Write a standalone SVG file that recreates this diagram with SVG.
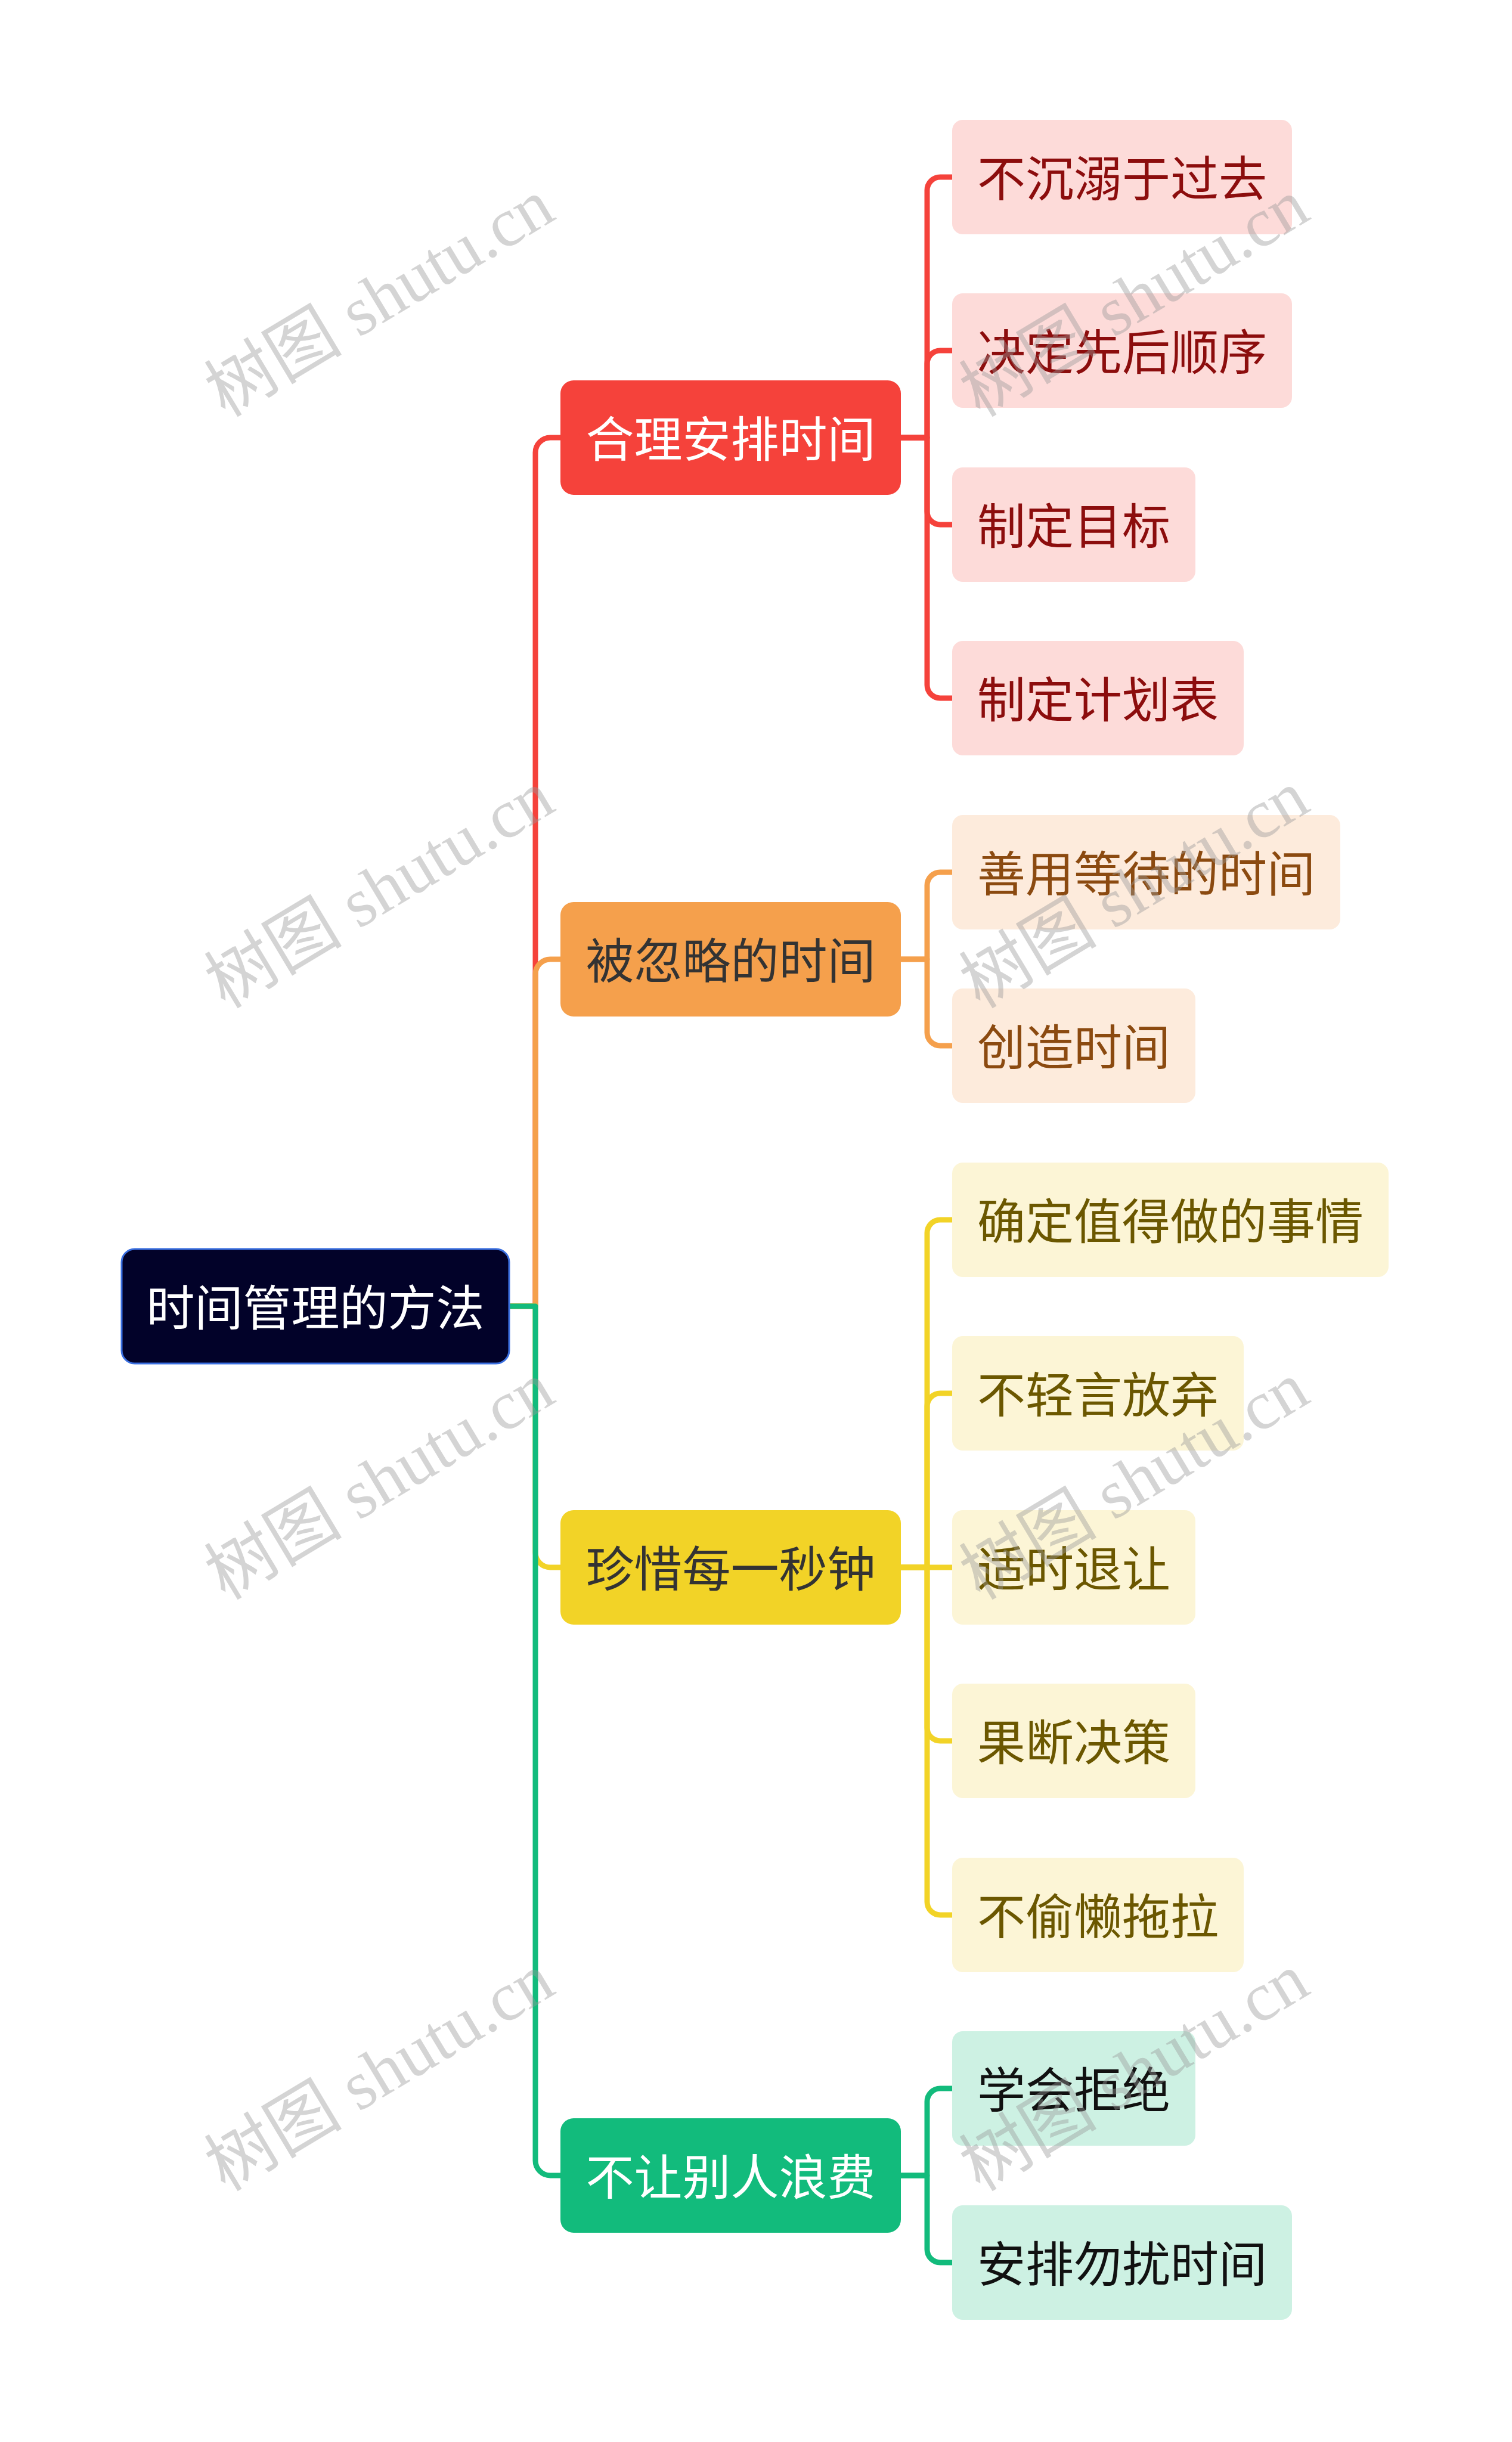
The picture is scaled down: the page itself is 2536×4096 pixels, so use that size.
<svg xmlns="http://www.w3.org/2000/svg" width="2536" height="4096" viewBox="0 0 2536 4096">
<style>
.t{font-family:"Noto Sans CJK SC","Noto Sans",sans-serif;font-size:81px;dominant-baseline:central}
.c{fill:none;stroke-width:9;stroke-linejoin:round}
.wm{font-family:"Liberation Serif","Noto Sans CJK SC",serif;font-size:116px;fill:#999;fill-opacity:0.42;text-anchor:middle}
</style>
<rect width="2536" height="4096" fill="#ffffff"/>
<g id="connectors">
<path class="c" stroke="#f5423b" d="M854 2191 H898 V759 A25 25 0 0 1 923 734 H940"/>
<path class="c" stroke="#f5a04c" d="M854 2191 H898 V1634 A25 25 0 0 1 923 1609 H940"/>
<path class="c" stroke="#f2d327" d="M854 2191 H898 V2604 A25 25 0 0 0 923 2629 H940"/>
<path class="c" stroke="#12bb7c" d="M854 2191 H898 V3624 A25 25 0 0 0 923 3649 H940"/>
<path class="c" stroke="#f5423b" d="M1511 734 H1555 V319 A22 22 0 0 1 1577 297 H1597"/>
<path class="c" stroke="#f5423b" d="M1511 734 H1555 V610 A22 22 0 0 1 1577 588 H1597"/>
<path class="c" stroke="#f5423b" d="M1511 734 H1555 V858 A22 22 0 0 0 1577 880 H1597"/>
<path class="c" stroke="#f5423b" d="M1511 734 H1555 V1149 A22 22 0 0 0 1577 1171 H1597"/>
<path class="c" stroke="#f5a04c" d="M1511 1609 H1555 V1485 A22 22 0 0 1 1577 1463 H1597"/>
<path class="c" stroke="#f5a04c" d="M1511 1609 H1555 V1732 A22 22 0 0 0 1577 1754 H1597"/>
<path class="c" stroke="#f2d327" d="M1511 2629 H1555 V2068 A22 22 0 0 1 1577 2046 H1597"/>
<path class="c" stroke="#f2d327" d="M1511 2629 H1555 V2359 A22 22 0 0 1 1577 2337 H1597"/>
<path class="c" stroke="#f2d327" d="M1511 2629 H1597"/>
<path class="c" stroke="#f2d327" d="M1511 2629 H1555 V2898 A22 22 0 0 0 1577 2920 H1597"/>
<path class="c" stroke="#f2d327" d="M1511 2629 H1555 V3190 A22 22 0 0 0 1577 3212 H1597"/>
<path class="c" stroke="#12bb7c" d="M1511 3649 H1555 V3525 A22 22 0 0 1 1577 3503 H1597"/>
<path class="c" stroke="#12bb7c" d="M1511 3649 H1555 V3773 A22 22 0 0 0 1577 3795 H1597"/>
</g>
<g id="root">
<rect x="204" y="2095" width="650" height="192" rx="22" fill="#020229" stroke="#3a6fe0" stroke-width="3"/>
<text class="t" x="529" y="2187" font-size="82" fill="#ffffff" text-anchor="middle">时间管理的方法</text>
</g>
<g id="n1">
<rect x="940" y="638" width="571" height="192" rx="22" fill="#f5423b"/>
<text class="t" x="1225.5" y="730" fill="#ffffff" text-anchor="middle">合理安排时间</text>
</g>
<g id="n2">
<rect x="940" y="1513" width="571" height="192" rx="22" fill="#f5a04c"/>
<text class="t" x="1225.5" y="1605" fill="#333333" text-anchor="middle">被忽略的时间</text>
</g>
<g id="n3">
<rect x="940" y="2533" width="571" height="192" rx="22" fill="#f2d327"/>
<text class="t" x="1225.5" y="2625" fill="#333333" text-anchor="middle">珍惜每一秒钟</text>
</g>
<g id="n4">
<rect x="940" y="3553" width="571" height="192" rx="22" fill="#12bb7c"/>
<text class="t" x="1225.5" y="3645" fill="#ffffff" text-anchor="middle">不让别人浪费</text>
</g>
<g id="l1"><rect x="1597" y="201" width="570" height="192" rx="18" fill="#fddbd9"/><text class="t" x="1639" y="293" fill="#8c0d0d">不沉溺于过去</text></g>
<g id="l2"><rect x="1597" y="492" width="570" height="192" rx="18" fill="#fddbd9"/><text class="t" x="1639" y="584" fill="#8c0d0d">决定先后顺序</text></g>
<g id="l3"><rect x="1597" y="784" width="408" height="192" rx="18" fill="#fddbd9"/><text class="t" x="1639" y="876" fill="#8c0d0d">制定目标</text></g>
<g id="l4"><rect x="1597" y="1075" width="489" height="192" rx="18" fill="#fddbd9"/><text class="t" x="1639" y="1167" fill="#8c0d0d">制定计划表</text></g>
<g id="l5"><rect x="1597" y="1367" width="651" height="192" rx="18" fill="#fdebdc"/><text class="t" x="1639" y="1459" fill="#8b4a10">善用等待的时间</text></g>
<g id="l6"><rect x="1597" y="1658" width="408" height="192" rx="18" fill="#fdebdc"/><text class="t" x="1639" y="1750" fill="#8b4a10">创造时间</text></g>
<g id="l7"><rect x="1597" y="1950" width="732" height="192" rx="18" fill="#fcf5d6"/><text class="t" x="1639" y="2042" fill="#6b5700">确定值得做的事情</text></g>
<g id="l8"><rect x="1597" y="2241" width="489" height="192" rx="18" fill="#fcf5d6"/><text class="t" x="1639" y="2333" fill="#6b5700">不轻言放弃</text></g>
<g id="l9"><rect x="1597" y="2533" width="408" height="192" rx="18" fill="#fcf5d6"/><text class="t" x="1639" y="2625" fill="#6b5700">适时退让</text></g>
<g id="l10"><rect x="1597" y="2824" width="408" height="192" rx="18" fill="#fcf5d6"/><text class="t" x="1639" y="2916" fill="#6b5700">果断决策</text></g>
<g id="l11"><rect x="1597" y="3116" width="489" height="192" rx="18" fill="#fcf5d6"/><text class="t" x="1639" y="3208" fill="#6b5700">不偷懒拖拉</text></g>
<g id="l12"><rect x="1597" y="3407" width="408" height="192" rx="18" fill="#cdf1e3"/><text class="t" x="1639" y="3499" fill="#111111">学会拒绝</text></g>
<g id="l13"><rect x="1597" y="3699" width="570" height="192" rx="18" fill="#cdf1e3"/><text class="t" x="1639" y="3791" fill="#111111">安排勿扰时间</text></g>
<g id="watermarks">
<text class="wm" transform="translate(637 501) rotate(-31)" y="38">树图 shutu.cn</text>
<text class="wm" transform="translate(1903 501) rotate(-31)" y="38">树图 shutu.cn</text>
<text class="wm" transform="translate(637 1493) rotate(-31)" y="38">树图 shutu.cn</text>
<text class="wm" transform="translate(1903 1493) rotate(-31)" y="38">树图 shutu.cn</text>
<text class="wm" transform="translate(637 2485) rotate(-31)" y="38">树图 shutu.cn</text>
<text class="wm" transform="translate(1903 2485) rotate(-31)" y="38">树图 shutu.cn</text>
<text class="wm" transform="translate(637 3477) rotate(-31)" y="38">树图 shutu.cn</text>
<text class="wm" transform="translate(1903 3477) rotate(-31)" y="38">树图 shutu.cn</text>
</g>
</svg>
